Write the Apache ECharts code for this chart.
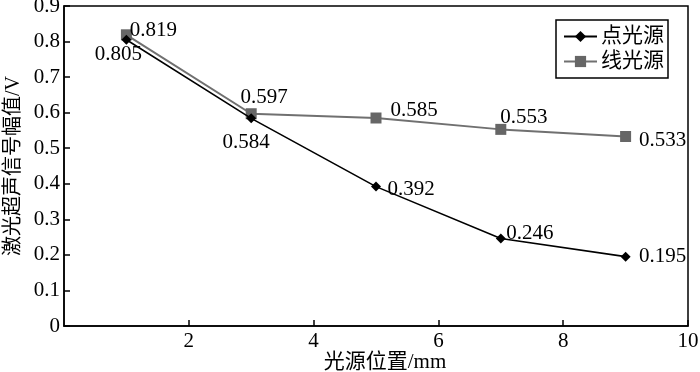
<!DOCTYPE html>
<html>
<head>
<meta charset="utf-8">
<script src="https://cdn.jsdelivr.net/npm/echarts@6/dist/echarts.min.js"></script>
<style>
html,body{margin:0;padding:0;background:#fff;}
#c{width:700px;height:372px;}
</style>
</head>
<body>
<div id="c"></div>
<script>
// ---- data ----
var positions = [1, 3, 5, 7, 9];
var pointSource = [0.805, 0.584, 0.392, 0.246, 0.195];
var lineSource = [0.819, 0.597, 0.585, 0.553, 0.533];
var seriesNames = ['点光源', '线光源'];
var xAxisName = '光源位置/mm';
var yAxisName = '激光超声信号幅值/V';

// ---- label placement (layout only) ----
var pointLabelOffsets = [[-8, 15], [-5, 24], [35, 3], [29, -5], [37, 0]];
var lineLabelOffsets = [[27, -4], [13, -16], [38, -8], [23, -12], [37, 4]];

var FONT = '"Liberation Serif","Times New Roman","Noto Sans CJK SC",serif';
var FS = 21;

function buildData(values, offsets) {
  return values.map(function (v, i) {
    return {
      value: [positions[i], v],
      label: {
        show: true,
        position: 'inside',
        offset: offsets[i],
        align: 'center',
        verticalAlign: 'middle',
        formatter: function (p) { return p.value[1].toFixed(3); },
        color: '#000',
        fontSize: FS,
        fontFamily: FONT
      }
    };
  });
}

var chart = echarts.init(document.getElementById('c'), null, {renderer: 'canvas'});
chart.setOption({
  animation: false,
  backgroundColor: '#fff',
  grid: {
    left: 64, right: 12, top: 6, bottom: 46,
    outerBoundsMode: 'none',
    containLabel: false,
    show: true, borderColor: '#000', borderWidth: 1.5
  },
  legend: {
    right: 32, top: 20,
    orient: 'vertical',
    backgroundColor: '#fff',
    borderColor: '#000',
    borderWidth: 1.5,
    borderRadius: 0,
    padding: [6, 4, 6, 7],
    itemWidth: 33,
    itemHeight: 14,
    itemGap: 4,
    textStyle: {fontSize: FS, fontFamily: FONT, color: '#000', padding: [0, 0, 0, -1]},
    data: seriesNames
  },
  xAxis: {
    type: 'value',
    min: 0, max: 10, interval: 2,
    name: xAxisName,
    nameLocation: 'middle',
    nameGap: 26,
    nameMoveOverlap: false,
    nameTextStyle: {fontSize: FS, fontFamily: FONT, color: '#000', padding: [0, 0, 0, 18]},
    axisLine: {show: true, lineStyle: {color: '#000', width: 1.5}},
    axisTick: {show: true, inside: true, length: 6, lineStyle: {color: '#000', width: 1.5}},
    axisLabel: {showMinLabel: false, fontSize: FS, fontFamily: FONT, color: '#000', margin: 5},
    splitLine: {show: false}
  },
  yAxis: {
    type: 'value',
    min: 0, max: 0.9, interval: 0.1,
    name: yAxisName,
    nameLocation: 'middle',
    nameRotate: 90,
    nameGap: 40,
    nameMoveOverlap: false,
    nameTextStyle: {fontSize: 20, fontFamily: FONT, color: '#000'},
    axisLine: {show: true, lineStyle: {color: '#000', width: 1.5}},
    axisTick: {show: true, inside: true, length: 6, lineStyle: {color: '#000', width: 1.5}},
    axisLabel: {fontSize: FS, fontFamily: FONT, color: '#000', margin: 4,
      formatter: function (v) { return v === 0 ? '0' : v.toFixed(1); }},
    splitLine: {show: false}
  },
  series: [
    {
      name: seriesNames[0],
      type: 'line',
      symbol: 'diamond',
      symbolSize: 10,
      z: 3,
      itemStyle: {color: '#000'},
      lineStyle: {color: '#000', width: 1.6},
      data: buildData(pointSource, pointLabelOffsets)
    },
    {
      name: seriesNames[1],
      type: 'line',
      symbol: 'rect',
      symbolSize: 11,
      z: 2,
      itemStyle: {color: '#666666'},
      lineStyle: {color: '#707070', width: 2},
      data: buildData(lineSource, lineLabelOffsets)
    }
  ]
});
</script>
</body>
</html>
